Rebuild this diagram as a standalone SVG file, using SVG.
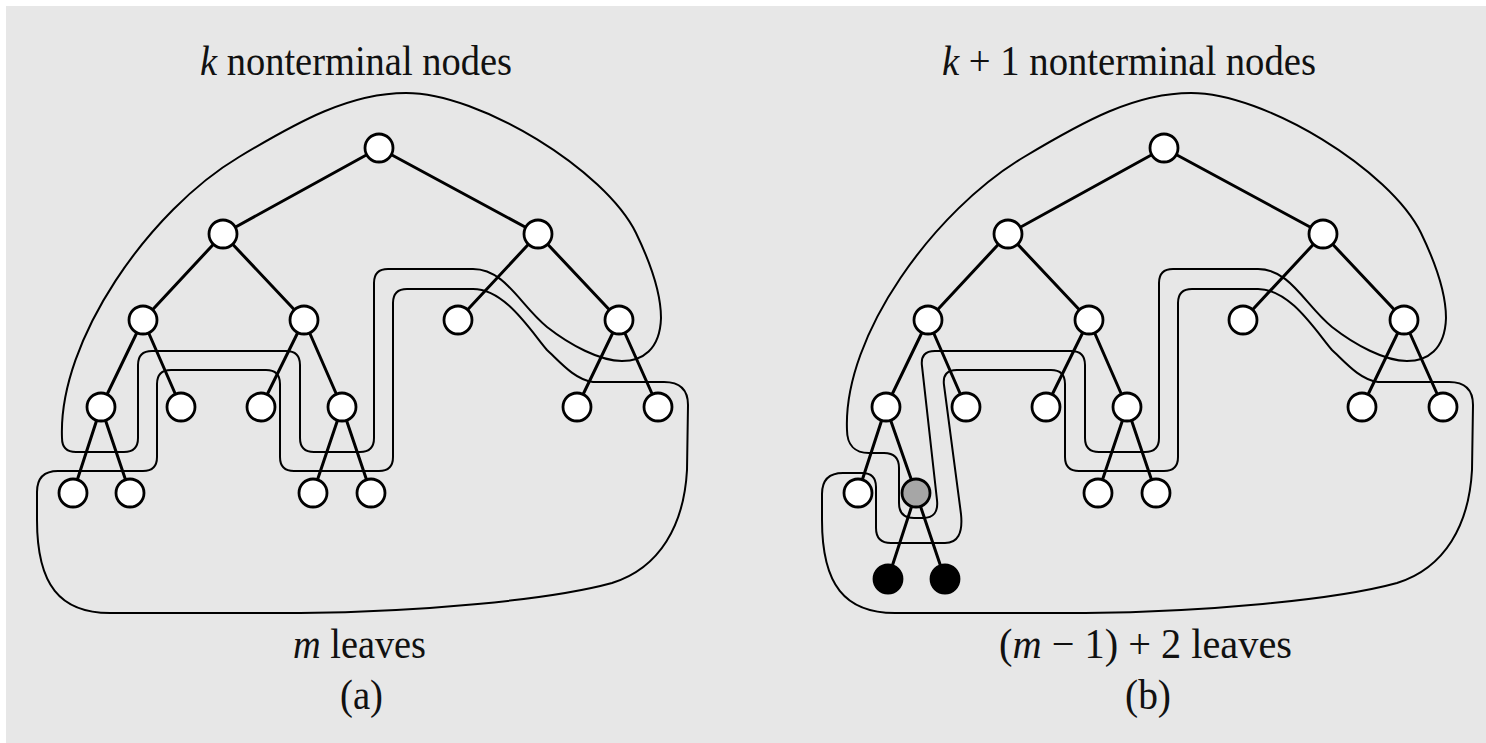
<svg xmlns="http://www.w3.org/2000/svg" width="1486" height="743" viewBox="0 0 1486 743">
  <style>
    .region { fill: none; stroke: #000; stroke-width: 2; }
    .edge { stroke: #000; stroke-width: 3; stroke-linecap: round; }
    .node { fill: #fff; stroke: #000; stroke-width: 2.8; }
    .grey { fill: #a6a6a6; }
    .black { fill: #000; }
    .label { font-family: "Liberation Serif", "Times New Roman", serif; font-size: 42px; fill: #111; }
    .it { font-style: italic; }
  </style>

  <!-- page background with thin white margin top/left -->
  <rect x="0" y="0" width="1486" height="743" fill="#fff"/>
  <rect x="6" y="6" width="1480" height="737" fill="#e7e7e7"/>

  <!-- ===== Panel (a) ===== -->
  <g id="panel-a">
    <g id="a-regions">
      <!-- outline around the nonterminal nodes -->
      <path class="region" d="M 62,438 C 58,340 150,210 239,157 C 299,121 350,93 406,93 C 480,93 605,170 636,233 C 651,264 661,292 661,318 C 660,350 642,361 622,361 C 600,361 570,345 547,327 C 520,305 505,269 473,269 L 388,269 Q 374,269 374,283 L 374,438 Q 374,452 360,452 L 314,452 Q 300,452 300,438 L 300,365 Q 300,351 286,351 L 152,351 Q 138,351 138,365 L 138,438 Q 138,452 124,452 L 76,452 Q 62,452 62,438 Z"/>
      <!-- outline around the leaves -->
      <path class="region" d="M 473,289 L 407,289 Q 393,289 393,303 L 393,457 Q 393,471 379,471 L 294,471 Q 280,471 280,457 L 280,384 Q 280,370 266,370 L 171,370 Q 157,370 157,384 L 157,457 Q 157,471 143,471 L 58,471 Q 37,471 37,492 L 37,520 C 37,585 60,613 110,613 L 300,613 C 420,612 550,600 612,583 C 660,568 684,525 687,470 L 688,405 Q 688,382 664,382 L 593,382 C 575,380 560,362 547,350 C 530,330 505,289 473,289 Z"/>
    </g>

    <g id="a-connectors">
      <line class="edge" x1="379" y1="148" x2="223" y2="234"/>
      <line class="edge" x1="379" y1="148" x2="538" y2="234"/>
      <line class="edge" x1="223" y1="234" x2="143" y2="320"/>
      <line class="edge" x1="223" y1="234" x2="304" y2="320"/>
      <line class="edge" x1="538" y1="234" x2="458" y2="320"/>
      <line class="edge" x1="538" y1="234" x2="619" y2="320"/>
      <line class="edge" x1="143" y1="320" x2="101" y2="407"/>
      <line class="edge" x1="143" y1="320" x2="181" y2="407"/>
      <line class="edge" x1="304" y1="320" x2="261" y2="407"/>
      <line class="edge" x1="304" y1="320" x2="342" y2="407"/>
      <line class="edge" x1="619" y1="320" x2="577" y2="407"/>
      <line class="edge" x1="619" y1="320" x2="658" y2="407"/>
      <line class="edge" x1="101" y1="407" x2="73" y2="493"/>
      <line class="edge" x1="101" y1="407" x2="130" y2="493"/>
      <line class="edge" x1="342" y1="407" x2="313" y2="493"/>
      <line class="edge" x1="342" y1="407" x2="371" y2="493"/>
    </g>

    <g id="a-root"><circle class="node" cx="379" cy="148" r="14"/></g>
    <g id="a-l"><circle class="node" cx="223" cy="234" r="14"/></g>
    <g id="a-r"><circle class="node" cx="538" cy="234" r="14"/></g>
    <g id="a-ll"><circle class="node" cx="143" cy="320" r="14"/></g>
    <g id="a-lr"><circle class="node" cx="304" cy="320" r="14"/></g>
    <g id="a-rl"><circle class="node" cx="458" cy="320" r="14"/></g>
    <g id="a-rr"><circle class="node" cx="619" cy="320" r="14"/></g>
    <g id="a-lll"><circle class="node" cx="101" cy="407" r="14"/></g>
    <g id="a-llr"><circle class="node" cx="181" cy="407" r="14"/></g>
    <g id="a-lrl"><circle class="node" cx="261" cy="407" r="14"/></g>
    <g id="a-lrr"><circle class="node" cx="342" cy="407" r="14"/></g>
    <g id="a-rrl"><circle class="node" cx="577" cy="407" r="14"/></g>
    <g id="a-rrr"><circle class="node" cx="658" cy="407" r="14"/></g>
    <g id="a-llll"><circle class="node" cx="73" cy="493" r="14"/></g>
    <g id="a-lllr"><circle class="node" cx="130" cy="493" r="14"/></g>
    <g id="a-lrrl"><circle class="node" cx="313" cy="493" r="14"/></g>
    <g id="a-lrrr"><circle class="node" cx="371" cy="493" r="14"/></g>

    <text class="label" x="200" y="75" textLength="312" lengthAdjust="spacingAndGlyphs"><tspan class="it">k</tspan> nonterminal nodes</text>
    <text class="label" x="293" y="658" textLength="133" lengthAdjust="spacingAndGlyphs"><tspan class="it">m</tspan> leaves</text>
    <text class="label" x="340" y="709" textLength="43" lengthAdjust="spacingAndGlyphs">(a)</text>
  </g>

  <!-- ===== Panel (b): same tree, one leaf expanded ===== -->
  <g id="panel-b" transform="translate(785,0)">
    <g id="b-regions">
      <path class="region" d="M 62,430 C 58,335 150,210 239,157 C 299,121 350,93 406,93 C 480,93 605,170 636,233 C 651,264 661,292 661,318 C 660,350 642,361 622,361 C 600,361 570,345 547,327 C 520,305 505,269 473,269 L 388,269 Q 374,269 374,283 L 374,438 Q 374,452 360,452 L 314,452 Q 300,452 300,438 L 300,365 Q 300,351 286,351 L 150,351 Q 135,351 137,366 L 152,500 Q 154,518 138,518 L 129,518 Q 114,518 114,503 L 114,468 Q 114,453 99,453 L 84,453 C 70,453 62,445 62,430 Z"/>
      <path class="region" d="M 473,289 L 407,289 Q 393,289 393,303 L 393,457 Q 393,471 379,471 L 294,471 Q 280,471 280,457 L 280,384 Q 280,370 266,370 L 172,370 Q 157,370 159,385 L 176,514 Q 179,543 160,543 L 106,543 Q 91,543 91,528 L 91,487 Q 91,473 77,473 L 58,473 Q 37,473 37,494 L 37,520 C 37,585 60,613 110,613 L 300,613 C 420,612 550,600 612,583 C 660,568 684,525 687,470 L 688,405 Q 688,382 664,382 L 593,382 C 575,380 560,362 547,350 C 530,330 505,289 473,289 Z"/>
    </g>

    <g id="b-connectors">
      <line class="edge" x1="379" y1="148" x2="223" y2="234"/>
      <line class="edge" x1="379" y1="148" x2="538" y2="234"/>
      <line class="edge" x1="223" y1="234" x2="143" y2="320"/>
      <line class="edge" x1="223" y1="234" x2="304" y2="320"/>
      <line class="edge" x1="538" y1="234" x2="458" y2="320"/>
      <line class="edge" x1="538" y1="234" x2="619" y2="320"/>
      <line class="edge" x1="143" y1="320" x2="101" y2="407"/>
      <line class="edge" x1="143" y1="320" x2="181" y2="407"/>
      <line class="edge" x1="304" y1="320" x2="261" y2="407"/>
      <line class="edge" x1="304" y1="320" x2="342" y2="407"/>
      <line class="edge" x1="619" y1="320" x2="577" y2="407"/>
      <line class="edge" x1="619" y1="320" x2="658" y2="407"/>
      <line class="edge" x1="101" y1="407" x2="73" y2="493"/>
      <line class="edge" x1="101" y1="407" x2="131" y2="493"/>
      <line class="edge" x1="342" y1="407" x2="313" y2="493"/>
      <line class="edge" x1="342" y1="407" x2="371" y2="493"/>
      <line class="edge" x1="131" y1="493" x2="103" y2="579"/>
      <line class="edge" x1="131" y1="493" x2="160" y2="579"/>
    </g>

    <g id="b-root"><circle class="node" cx="379" cy="148" r="14"/></g>
    <g id="b-l"><circle class="node" cx="223" cy="234" r="14"/></g>
    <g id="b-r"><circle class="node" cx="538" cy="234" r="14"/></g>
    <g id="b-ll"><circle class="node" cx="143" cy="320" r="14"/></g>
    <g id="b-lr"><circle class="node" cx="304" cy="320" r="14"/></g>
    <g id="b-rl"><circle class="node" cx="458" cy="320" r="14"/></g>
    <g id="b-rr"><circle class="node" cx="619" cy="320" r="14"/></g>
    <g id="b-lll"><circle class="node" cx="101" cy="407" r="14"/></g>
    <g id="b-llr"><circle class="node" cx="181" cy="407" r="14"/></g>
    <g id="b-lrl"><circle class="node" cx="261" cy="407" r="14"/></g>
    <g id="b-lrr"><circle class="node" cx="342" cy="407" r="14"/></g>
    <g id="b-rrl"><circle class="node" cx="577" cy="407" r="14"/></g>
    <g id="b-rrr"><circle class="node" cx="658" cy="407" r="14"/></g>
    <g id="b-llll"><circle class="node" cx="73" cy="493" r="14"/></g>
    <g id="b-lllr"><circle class="node grey" cx="131" cy="493" r="14"/></g>
    <g id="b-lrrl"><circle class="node" cx="313" cy="493" r="14"/></g>
    <g id="b-lrrr"><circle class="node" cx="371" cy="493" r="14"/></g>
    <g id="b-new-left"><circle class="node black" cx="103" cy="579" r="14"/></g>
    <g id="b-new-right"><circle class="node black" cx="160" cy="579" r="14"/></g>

    <text class="label" x="157" y="75" textLength="374" lengthAdjust="spacingAndGlyphs"><tspan class="it">k</tspan> + 1 nonterminal nodes</text>
    <text class="label" x="214" y="658" textLength="293" lengthAdjust="spacingAndGlyphs">(<tspan class="it">m</tspan> −  1) +  2 leaves</text>
    <text class="label" x="340" y="709" textLength="46" lengthAdjust="spacingAndGlyphs">(b)</text>
  </g>
</svg>
